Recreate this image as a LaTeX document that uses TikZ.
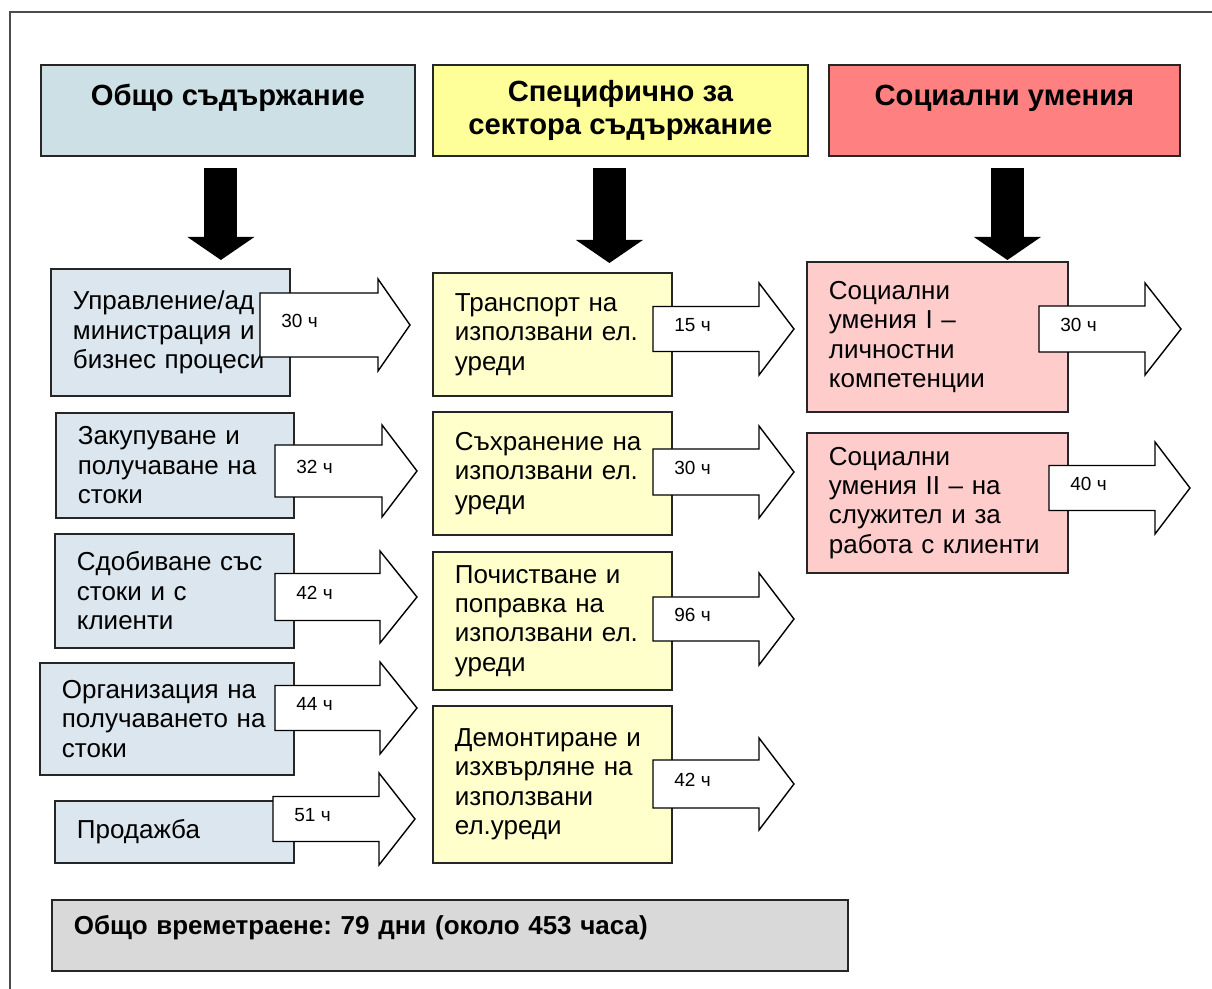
\documentclass[tikz,border=0pt]{standalone}
\usepackage{fontspec}
\setmainfont{Liberation Sans}
\usepackage{tikz}
\usetikzlibrary{positioning,arrows.meta}
\frenchspacing

\definecolor{genhead}{HTML}{CCE0E5}
\definecolor{genfill}{HTML}{DBE6EE}
\definecolor{spechead}{HTML}{FFFF99}
\definecolor{specfill}{HTML}{FFFFCC}
\definecolor{sochead}{HTML}{FF8080}
\definecolor{socfill}{HTML}{FFCCCC}
\definecolor{totalfill}{HTML}{D9D9D9}

\begin{document}
\begin{tikzpicture}[
    x=0.5pt, y=-0.5pt,
    head/.style={rectangle, draw=black!85, line width=0.9pt, anchor=north west, align=center, inner sep=0pt, font=\fontsize{14.6}{16.5}\selectfont\bfseries},
    item/.style={rectangle, draw=black!85, line width=0.9pt, anchor=north west, align=left, inner xsep=11pt, inner ysep=0pt, font=\fontsize{13}{14.7}\selectfont},
    hrs/.style={anchor=west, inner sep=0pt, font=\fontsize{9.5}{11}\selectfont},
    down/.style={line width=16.5pt, -{Triangle[width=33.5pt, length=11.5pt, line width=0pt]}},
    block/.style={draw=black, line width=0.7pt, fill=white, line join=miter}
]
\useasboundingbox (0,0) rectangle (1212,989);

% Frame
\draw[gray!60!black, line width=0.8pt] (10,989) -- (10,12) -- (1212,12);

% Headers
\node[head, fill=genhead, minimum width=187pt, minimum height=45.5pt, text height=10.5pt, text depth=15pt] (gen) at (40,64) {Общо съдържание};
\node[head, fill=spechead, minimum width=187.5pt, minimum height=45.5pt] (spec) at (432,64) {Специфично за\\сектора съдържание};
\node[head, fill=sochead, minimum width=175.5pt, minimum height=45.5pt, text height=10.5pt, text depth=15pt] (soc) at (828,64) {Социални умения};

% General content
\node[item, fill=genfill, text width=97.5pt, minimum height=63.5pt] (adm) at (50,268) {Управление/ад\\министрация и\\бизнес процеси};
\node[item, fill=genfill, text width=97pt, minimum height=52.5pt] (buy) at (55,412) {Закупуване и\\получаване на\\стоки};
\node[item, fill=genfill, text width=97.5pt, minimum height=57pt] (acq) at (54,533) {Сдобиване със\\стоки и с\\клиенти};
\node[item, fill=genfill, text width=105pt, minimum height=56pt] (org) at (39,662) {Организация на\\получаването на\\стоки};
\node[item, fill=genfill, text width=97.5pt, minimum height=31pt] (sal) at (54,800) {Продажба};

% Sector content
\node[item, fill=specfill, text width=97.5pt, minimum height=61.5pt] (trn) at (432,272) {Транспорт на\\използвани ел.\\уреди};
\node[item, fill=specfill, text width=97.5pt, minimum height=61.5pt] (sto) at (432,411) {Съхранение на\\използвани ел.\\уреди};
\node[item, fill=specfill, text width=97.5pt, minimum height=69pt] (cln) at (432,551) {Почистване и\\поправка на\\използвани ел.\\уреди};
\node[item, fill=specfill, text width=97.5pt, minimum height=78.5pt] (dem) at (432,705) {Демонтиране и\\изхвърляне на\\използвани\\ел.уреди};

% Social skills
\node[item, fill=socfill, text width=108.5pt, minimum height=75pt] (sk1) at (806,261) {Социални\\умения I –\\личностни\\компетенции};
\node[item, fill=socfill, text width=108.5pt, minimum height=70pt] (sk2) at (806,432) {Социални\\умения II – на\\служител и за\\работа с клиенти};

% Black arrows
\draw[down, shorten <=5.5pt, shorten >=4pt] ([xshift=-3.5pt]gen.south) -- ([xshift=-3.5pt]gen.south |- adm.north);
\draw[down, shorten <=5.5pt, shorten >=4.5pt] ([xshift=-5.5pt]spec.south) -- ([xshift=-5.5pt]spec.south |- trn.north);
\draw[down, shorten <=5.5pt, shorten >=0.5pt] ([xshift=1.5pt]soc.south) -- ([xshift=1.5pt]soc.south |- sk1.north);

% Hour arrows
\foreach \n/\L/\B/\T/\c/\s/\lab in {
    1/260/378/410/325/32/30 ч, 2/275/382/417/471/26/32 ч, 3/275/380/417/597/23.5/42 ч,
    4/275/380/417/708/22.5/44 ч, 5/273/379/415/819/22.5/51 ч,
    6/653/759/794/329/22.5/15 ч, 7/653/759/794/472/23/30 ч, 8/653/759/794/619/22/96 ч,
    9/653/759/794/784/24/42 ч,
    10/1039/1145/1181/329/23/30 ч, 11/1049/1155/1190/488/22.5/40 ч} {
  \draw[block] (\L,\c-\s) -- (\B,\c-\s) -- (\B,\c-46) -- (\T,\c) -- (\B,\c+46) -- (\B,\c+\s) -- (\L,\c+\s) -- cycle;
  \node[hrs] (h\n) at (\L+21,\c-4) {\lab};
}

% Total
\node[item, fill=totalfill, text width=376pt, minimum height=35.5pt, text height=9.5pt, text depth=10.5pt, font=\fontsize{13}{15}\selectfont\bfseries] (total) at (51,899) {Общо времетраене: 79 дни (около 453 часа)};
\end{tikzpicture}
\end{document}
